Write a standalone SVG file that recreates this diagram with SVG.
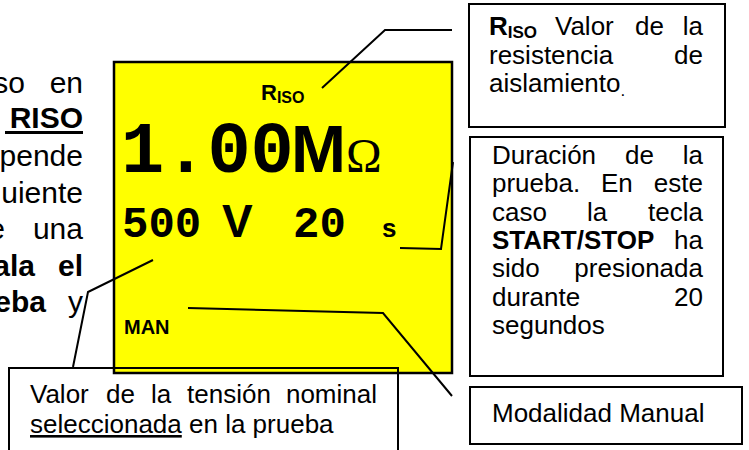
<svg xmlns="http://www.w3.org/2000/svg" width="749" height="450" viewBox="0 0 749 450">
<style>
.t{font-family:"Liberation Sans",Arial,sans-serif;font-size:26px;fill:#000}
.l{font-family:"Liberation Sans",Arial,sans-serif;font-size:30px;fill:#000}
.b{font-weight:bold}
.m{font-family:"Liberation Mono","Courier New",monospace;font-weight:bold;fill:#000}
.box{fill:#fff;stroke:#000;stroke-width:2}
.con{fill:none;stroke:#000;stroke-width:2}
</style>
<g id="left-text">
<text class="l" x="25" y="93" text-anchor="end">so</text>
<text class="l" x="83" y="93" text-anchor="end">en</text>
<text class="l b" x="83" y="128" text-anchor="end">RISO</text>
<rect x="5" y="131" width="78" height="3" fill="#000"/>
<text class="l" x="83" y="166" text-anchor="end">pende</text>
<text class="l" x="83" y="203" text-anchor="end">uiente</text>
<text class="l" x="5" y="239" text-anchor="end">e</text>
<text class="l" x="83" y="239" text-anchor="end">una</text>
<text class="l b" x="35" y="276" text-anchor="end">ala</text>
<text class="l b" x="83" y="276" text-anchor="end">el</text>
<text class="l b" x="46" y="312" text-anchor="end">eba</text>
<text class="l" x="83" y="312" text-anchor="end">y</text>
</g>
<g id="display">
<rect x="114" y="62" width="338" height="311" fill="#ffff00" stroke="#000" stroke-width="2.5"/>
<text x="261" y="100" font-family="Liberation Sans,Arial,sans-serif" font-weight="bold" font-size="22">R<tspan font-size="16" dy="3">ISO</tspan></text>
<text class="m" x="121" y="172" font-size="72">1.00</text>
<text x="291" y="172" font-family="Liberation Sans,Arial,sans-serif" font-weight="bold" font-size="66">M</text>
<text x="346" y="172" font-family="Liberation Serif,Times New Roman,serif" font-size="48">Ω</text>
<text class="m" x="122" y="237" font-size="44">500</text>
<text x="222" y="237" font-family="Liberation Sans,Arial,sans-serif" font-weight="bold" font-size="46">V</text>
<text class="m" x="293" y="237" font-size="44">20</text>
<text x="382" y="237" font-family="Liberation Sans,Arial,sans-serif" font-weight="bold" font-size="26">s</text>
<text x="124" y="334" font-family="Liberation Sans,Arial,sans-serif" font-weight="bold" font-size="20">MAN</text>
</g>
<g id="box-riso">
<rect class="box" x="469" y="4" width="256" height="123"/>
<text class="t b" x="489" y="35">R<tspan font-size="17" dy="3">ISO</tspan></text>
<text class="t" x="555" y="35">Valor</text>
<text class="t" x="635" y="35">de</text>
<text class="t" x="703" y="35" text-anchor="end">la</text>
<text class="t" x="489" y="64">resistencia</text>
<text class="t" x="703" y="64" text-anchor="end">de</text>
<text class="t" x="489" y="92">aislamiento<tspan font-size="17" dy="4">.</tspan></text>
</g>
<g id="box-duracion">
<rect class="box" x="470" y="137" width="253" height="239"/>
<text class="t" x="492" y="164">Duración</text>
<text class="t" x="625" y="164">de</text>
<text class="t" x="703" y="164" text-anchor="end">la</text>
<text class="t" x="492" y="192.3">prueba.</text>
<text class="t" x="601" y="192.3">En</text>
<text class="t" x="703" y="192.3" text-anchor="end">este</text>
<text class="t" x="492" y="220.6">caso</text>
<text class="t" x="587" y="220.6">la</text>
<text class="t" x="703" y="220.6" text-anchor="end">tecla</text>
<text class="t b" x="492" y="248.9">START/STOP</text>
<text class="t" x="703" y="248.9" text-anchor="end">ha</text>
<text class="t" x="492" y="277.2">sido</text>
<text class="t" x="703" y="277.2" text-anchor="end">presionada</text>
<text class="t" x="492" y="305.5">durante</text>
<text class="t" x="703" y="305.5" text-anchor="end">20</text>
<text class="t" x="492" y="333.8">segundos</text>
</g>
<g id="box-manual">
<rect class="box" x="470" y="387" width="272" height="57"/>
<text class="t" x="492" y="422">Modalidad Manual</text>
</g>
<g id="box-tension">
<rect x="9" y="368" width="389" height="90" fill="none" stroke="#000" stroke-width="2"/>
<text class="t" x="30" y="403">Valor</text>
<text class="t" x="106" y="403">de</text>
<text class="t" x="151" y="403">la</text>
<text class="t" x="187" y="403">tensión</text>
<text class="t" x="377" y="403" text-anchor="end">nominal</text>
<text class="t" x="30" y="433"><tspan text-decoration="underline">seleccionada</tspan> en la prueba</text>
</g>
<g id="connectors">
<polyline class="con" points="322,88 385,30 452,30"/>
<polyline class="con" points="400,248 441,249 453,162"/>
<polyline class="con" points="153,260 88,292 73,367"/>
<polyline class="con" points="188,308 383,313 452,396"/>
</g>
</svg>
